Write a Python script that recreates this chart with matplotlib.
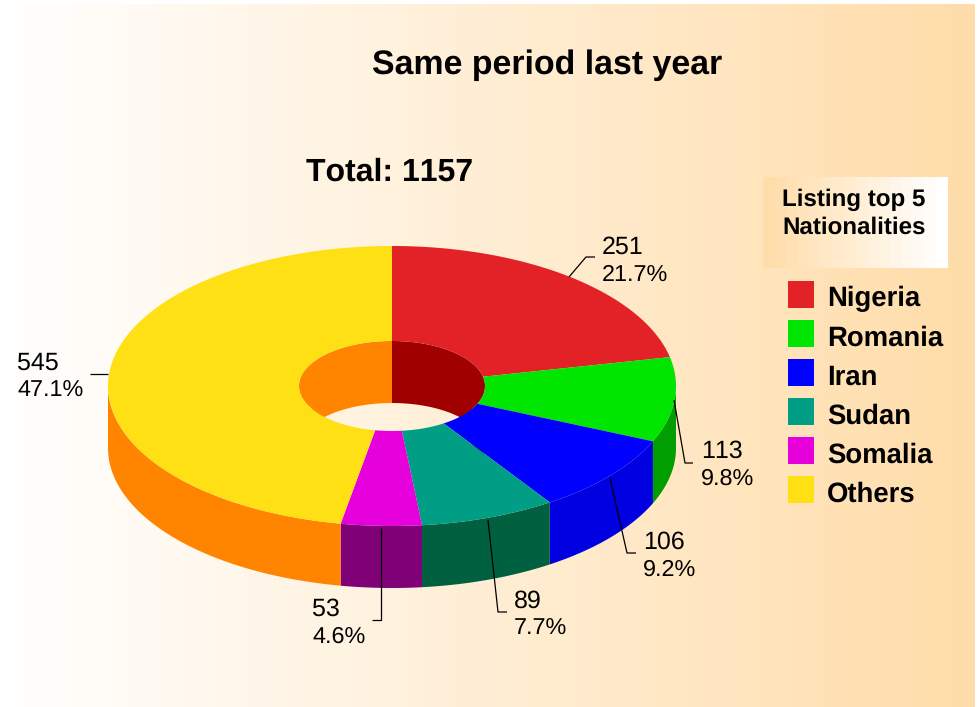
import numpy as np
import matplotlib
matplotlib.use("Agg")
import matplotlib.pyplot as plt
from matplotlib.patches import Polygon, Rectangle

plt.rcParams['font.family'] = ['Liberation Sans', 'DejaVu Sans']
plt.rcParams['text.hinting'] = 'none'
plt.rcParams['text.kerning_factor'] = 6

# data
names = ["Nigeria", "Romania", "Iran", "Sudan", "Somalia", "Others"]
counts = [251, 113, 106, 89, 53, 545]
percents = ["21.7%", "9.8%", "9.2%", "7.7%", "4.6%", "47.1%"]
top_colors = ["#E32227", "#00E600", "#0000FF", "#009E85", "#E600DC", "#FFE014"]
side_colors = ["#A00000", "#009E00", "#0000E0", "#006040", "#800078", "#FF8400"]
total = 1157

# label anchor and leader lines, in pixels
label_pos = [(602, 245), (701, 449), (643, 540), (514, 599), (312, 607), (17, 361)]
leaders = [[(569, 277), (586, 257), (595, 257)],
           [(674, 400), (685, 463), (693, 463)],
           [(610, 478), (627, 553), (636, 553)],
           [(488, 520), (498, 612), (507, 612)],
           [(381, 528), (381, 620), (372, 620)],
           [(108, 374), (90, 374)]]

W, H = 980, 707
cx, cy = 392, 386
rx, ry = 284, 140
hx, hy = 93, 45
depth = 62

fig = plt.figure(figsize=(W / 100, H / 100), dpi=100)
ax = fig.add_axes([0, 0, 1, 1])
ax.axis("off")

# background gradient, stepped like the original
peach = matplotlib.colors.LinearSegmentedColormap.from_list("peach", ["#FFFFFF", "#FFDDAA"])
ax.imshow(np.linspace(0, 1, 64).reshape(1, -1), cmap=peach, extent=(0, 974, 707, 4),
          aspect="auto", interpolation="nearest", zorder=0)
ax.imshow(np.linspace(1, 0, 16).reshape(1, -1), cmap=peach, extent=(763, 947, 268, 177),
          aspect="auto", interpolation="nearest", zorder=1)
ax.set_xlim(0, W)
ax.set_ylim(H, 0)


def rim(a0, a1, x_r, y_r, dy=0):
    t = np.radians(np.linspace(a0, a1, max(int(abs(a1 - a0) * 2), 2)))
    return np.column_stack([cx + x_r * np.sin(t), cy + dy - y_r * np.cos(t)])


edges = np.concatenate([[0], np.cumsum(counts)]) / total * 360
z = 2

# back wall of the hole: red on the right, orange on the left
for i, a0, a1 in [(0, 0, 120), (5, 240, 360)]:
    pts = np.vstack([rim(a0, a1, hx, hy), rim(a1, a0, hx, hy, depth)])
    ax.add_patch(Polygon(pts, closed=True, fc=side_colors[i], ec="none", zorder=z))

# outer wall, front half only
for i in range(6):
    a0 = max(edges[i], 90)
    a1 = min(edges[i + 1], 270)
    if a1 <= a0:
        continue
    pts = np.vstack([rim(a0, a1, rx, ry), rim(a1, a0, rx, ry, depth)])
    ax.add_patch(Polygon(pts, closed=True, fc=side_colors[i], ec="none", zorder=z))

# top face
for i in range(6):
    pts = np.vstack([rim(edges[i], edges[i + 1], rx, ry), rim(edges[i + 1], edges[i], hx, hy)])
    ax.add_patch(Polygon(pts, closed=True, fc=top_colors[i], ec="none", zorder=z + 1))

# leader lines and labels
for i in range(6):
    xs, ys = zip(*leaders[i])
    ax.plot(xs, ys, color="black", lw=0.9, zorder=z + 2, solid_capstyle="butt")
    x, y = label_pos[i]
    ax.text(x, y + 2, str(counts[i]), fontsize=18, va="center", ha="left", zorder=z + 3)
    ax.text(x, y + 30, percents[i], fontsize=16.8, va="center", ha="left", zorder=z + 3)

# titles
ax.text(547, 65, "Same period last year", fontsize=24.4, fontweight="bold", ha="center", va="center")
ax.text(390, 172, "Total: " + str(total), fontsize=23, fontweight="bold", ha="center", va="center")

# legend
ax.text(782, 200, "Listing top 5", fontsize=17.4, fontweight="bold", ha="left", va="center", zorder=3)
ax.text(782, 228, "Nationalities", fontsize=17.4, fontweight="bold", ha="left", va="center", zorder=3)
for i, name in enumerate(names):
    y = 281 + i * 39
    ax.add_patch(Rectangle((788, y), 26, 27, fc=top_colors[i], ec="none", zorder=3))
    ax.text(827, y + 18, name, fontsize=19.8, fontweight="bold", ha="left", va="center", zorder=3)

fig.savefig("out.png", dpi=100)
